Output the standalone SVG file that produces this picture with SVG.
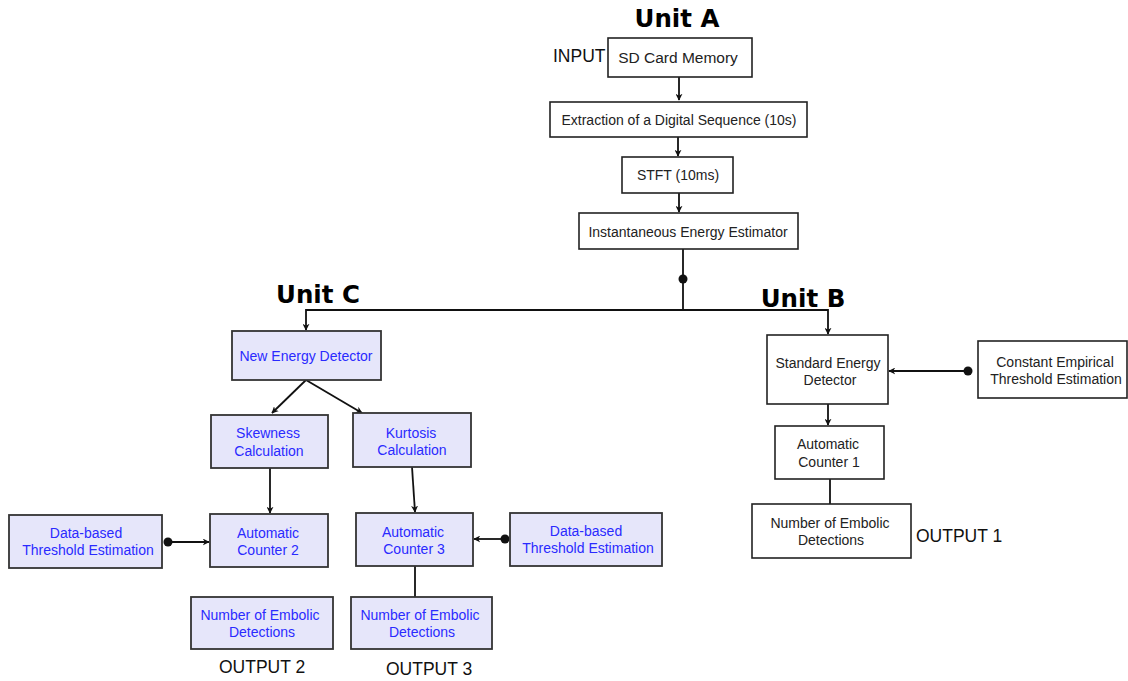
<svg xmlns="http://www.w3.org/2000/svg" width="1128" height="681" viewBox="0 0 1128 681">
<style>
.b{fill:#fff;stroke:#222;stroke-width:1.6}
.p{fill:#e6e6fa;stroke:#333;stroke-width:1.8}
.t{font-family:"Liberation Sans",Arial,sans-serif;font-size:14px;fill:#222;text-anchor:middle}
.bl{fill:#2a2aff}
.h{font-family:"DejaVu Sans",sans-serif;font-weight:bold;font-size:24.5px;fill:#000}
.o{font-family:"Liberation Sans",Arial,sans-serif;font-size:17.5px;fill:#111}
.c{fill:none;stroke:#111;stroke-width:1.8}
</style>
<defs>
<marker id="ar" viewBox="0 0 10 10" refX="9" refY="5" markerWidth="7" markerHeight="7" markerUnits="userSpaceOnUse" orient="auto"><path d="M0,0 L10,5 L0,10 L3,5 z" fill="#111"/></marker>
</defs>
<text class="h" x="677" y="27" text-anchor="middle">Unit A</text>
<text class="h" x="318" y="303" text-anchor="middle">Unit C</text>
<text class="h" x="803" y="307" text-anchor="middle">Unit B</text>
<text class="o" x="553" y="62">INPUT</text>
<text class="o" x="916" y="542">OUTPUT 1</text>
<text class="o" x="219" y="673">OUTPUT 2</text>
<text class="o" x="386" y="675">OUTPUT 3</text>
<g id="connectors">
<path class="c" d="M679,77 V100" marker-end="url(#ar)"/>
<path class="c" d="M678,137 V156" marker-end="url(#ar)"/>
<path class="c" d="M679,193 V212" marker-end="url(#ar)"/>
<path class="c" d="M683,249 V310"/>
<circle cx="683" cy="279" r="4.5" fill="#111"/>
<path class="c" d="M683,310 H306 V330" marker-end="url(#ar)"/>
<path class="c" d="M683,310 H828 V334" marker-end="url(#ar)"/>
<path class="c" d="M306,380 L272,413" marker-end="url(#ar)"/>
<path class="c" d="M306,380 L362,413" marker-end="url(#ar)"/>
<path class="c" d="M270,468 V513" marker-end="url(#ar)"/>
<circle cx="168" cy="542" r="4.5" fill="#111"/>
<path class="c" d="M168,542 H209" marker-end="url(#ar)"/>
<path class="c" d="M412,467 L415,512" marker-end="url(#ar)"/>
<circle cx="505" cy="539" r="4.5" fill="#111"/>
<path class="c" d="M505,539 H474" marker-end="url(#ar)"/>
<path class="c" d="M415,566 V597"/>
<path class="c" d="M828,404 V425" marker-end="url(#ar)"/>
<circle cx="968" cy="371" r="4.5" fill="#111"/>
<path class="c" d="M968,371 H889" marker-end="url(#ar)"/>
<path class="c" d="M830,479 V504"/>
</g>
<g id="sd"><rect class="b" x="608" y="38" width="144" height="39"/><text class="t" x="678" y="63" style="font-size:15.5px">SD Card Memory</text></g>
<g id="extract"><rect class="b" x="550" y="102" width="257" height="35"/><text class="t" x="679" y="125">Extraction of a Digital Sequence (10s)</text></g>
<g id="stft"><rect class="b" x="622" y="157" width="111" height="36"/><text class="t" x="678" y="180">STFT (10ms)</text></g>
<g id="iee"><rect class="b" x="579" y="213" width="219" height="36"/><text class="t" x="688" y="237">Instantaneous Energy Estimator</text></g>
<g id="ned"><rect class="p" x="232" y="331" width="149" height="49"/><text class="t bl" x="306" y="361">New Energy Detector</text></g>
<g id="skew"><rect class="p" x="211" y="415" width="117" height="53"/><text class="t bl" x="268" y="438">Skewness</text><text class="t bl" x="269" y="456">Calculation</text></g>
<g id="kurt"><rect class="p" x="353" y="413" width="118" height="54"/><text class="t bl" x="411" y="438">Kurtosis</text><text class="t bl" x="412" y="455">Calculation</text></g>
<g id="ac2"><rect class="p" x="210" y="514" width="118" height="53"/><text class="t bl" x="268" y="538">Automatic</text><text class="t bl" x="268" y="555">Counter 2</text></g>
<g id="dbl"><rect class="p" x="9" y="515" width="153" height="53"/><text class="t bl" x="86" y="538">Data-based</text><text class="t bl" x="88" y="555">Threshold Estimation</text></g>
<g id="ac3"><rect class="p" x="356" y="513" width="117" height="53"/><text class="t bl" x="413" y="537">Automatic</text><text class="t bl" x="414" y="553.5">Counter 3</text></g>
<g id="dbr"><rect class="p" x="510" y="513" width="152" height="53"/><text class="t bl" x="586" y="536">Data-based</text><text class="t bl" x="588" y="553">Threshold Estimation</text></g>
<g id="ne2"><rect class="p" x="191" y="597" width="142" height="52"/><text class="t bl" x="260" y="620">Number of Embolic</text><text class="t bl" x="262" y="637">Detections</text></g>
<g id="ne3"><rect class="p" x="351" y="597" width="141" height="52"/><text class="t bl" x="420" y="620">Number of Embolic</text><text class="t bl" x="422" y="637">Detections</text></g>
<g id="sed"><rect class="b" x="767" y="335" width="121" height="69"/><text class="t" x="828" y="368">Standard Energy</text><text class="t" x="830" y="385">Detector</text></g>
<g id="cete"><rect class="b" x="978" y="341" width="149" height="57"/><text class="t" x="1055" y="367">Constant Empirical</text><text class="t" x="1056" y="384">Threshold Estimation</text></g>
<g id="ac1"><rect class="b" x="775" y="426" width="109" height="53"/><text class="t" x="828" y="449">Automatic</text><text class="t" x="829" y="467">Counter 1</text></g>
<g id="ne1"><rect class="b" x="752" y="504" width="159" height="54"/><text class="t" x="830" y="528">Number of Embolic</text><text class="t" x="831" y="545">Detections</text></g>
</svg>
